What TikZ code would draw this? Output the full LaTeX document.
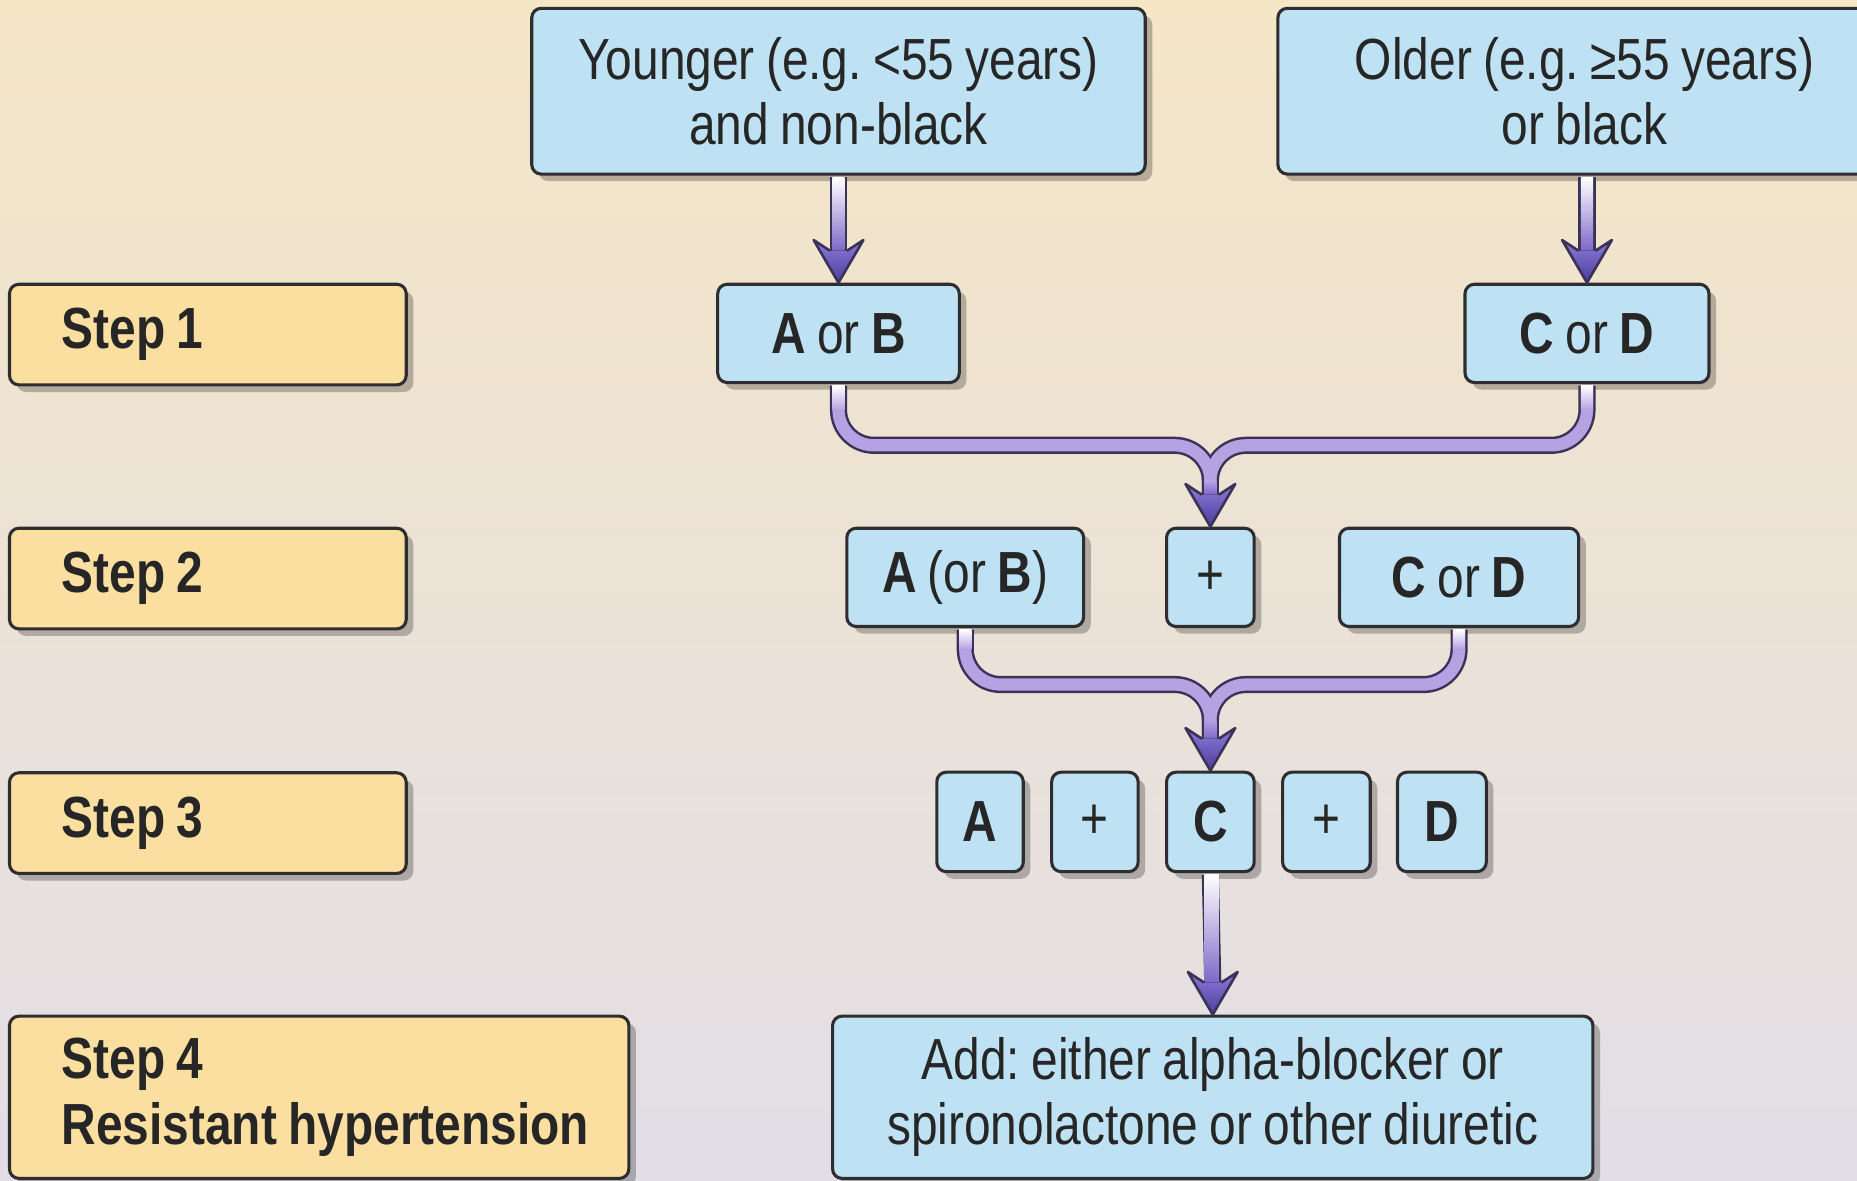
\documentclass[tikz,border=0pt]{standalone}
\usepackage{fontspec}
\setmainfont{Liberation Sans}[FakeStretch=0.825, WordSpace=0.85]
\frenchspacing
\usetikzlibrary{shadows,calc}
\definecolor{bgtop}{HTML}{F5E6C6}
\definecolor{bgmid}{HTML}{EFE4D2}
\definecolor{bgbot}{HTML}{E2DEE6}
\definecolor{bluef}{HTML}{BEE2F3}
\definecolor{yelf}{HTML}{FADFA0}
\definecolor{bord}{HTML}{2E2E30}
\definecolor{txt}{HTML}{262626}
\definecolor{outl}{HTML}{3B3357}
\definecolor{lav}{HTML}{B5A2E2}
\definecolor{purp}{HTML}{7C68C8}
\definecolor{headtop}{HTML}{8E7CD8}
\definecolor{headbot}{HTML}{4A3C9E}
\tikzset{
  box/.style={draw=bord, line width=2.6pt, rounded corners=8pt, fill=bluef, text=txt,
    inner sep=0pt, align=flush center, font=\fontsize{49}{55}\selectfont,
    drop shadow={shadow xshift=6pt, shadow yshift=-6pt, opacity=0.25, fill=black}},
  stepbox/.style={box, fill=yelf, align=flush left, inner xsep=44pt, font=\fontsize{49}{55}\selectfont\bfseries},
  pipeout/.style={draw=outl, line width=14.5pt, rounded corners=30pt},
  pipein/.style={draw=lav, line width=10.3pt, rounded corners=30pt},
  ahead/.pic={
    \fill[top color=headtop, bottom color=headbot] (-7.2,27) -- (-21,36) -- (0,0) -- (21,36) -- (7.2,27) -- cycle;
    \draw[outl, line width=2.2pt, line join=round] (-7.2,27) -- (-21,36) -- (0,0) -- (21,36) -- (7.2,27);
  }
}
\begin{document}
\begin{tikzpicture}[x=1pt, y=1pt]
\useasboundingbox (0,0) rectangle (1568,-997);
\shade[top color=bgtop, middle color=bgmid, bottom color=bgbot] (0,0) rectangle (1568,-997);

% left column
\node[stepbox, text width=247pt, minimum height=85pt] (s1) at (175.5,-282.5) {Step 1};
\node[stepbox, text width=247pt, minimum height=85pt] (s2) at (175.5,-488.5) {Step 2};
\node[stepbox, text width=247pt, minimum height=85pt] (s3) at (175.5,-695) {Step 3};
\node[stepbox, text width=435pt, minimum height=137pt] (s4) at (269.5,-926.5) {Step 4\\\mbox{Resistant hypertension}};

% flow boxes
\node[box, minimum width=518pt, minimum height=140pt] (young) at (708,-77) {Younger (e.g. <55 years)\\and non-black};
\node[box, minimum width=518pt, minimum height=140pt] (old) at (1338,-77) {Older (e.g. ≥55 years)\\or black};
\node[box, minimum width=204pt, minimum height=83pt] (aorb) at (708,-281.5) {\textbf{A} or \textbf{B}};
\node[box, minimum width=206pt, minimum height=83pt] (cord) at (1340,-281.5) {\textbf{C} or \textbf{D}};
\node[box, minimum width=200pt, minimum height=83pt] (aorb2) at (815,-487.5) {\textbf{A} (or \textbf{B})};
\node[box, minimum width=74pt, minimum height=83pt] (plus2) at (1022,-487.5) {+};
\node[box, minimum width=202pt, minimum height=83pt] (cord2) at (1232,-487.5) {\textbf{C} or \textbf{D}};
\node[box, minimum width=73pt, minimum height=84pt] (a3) at (827.5,-694) {\textbf{A}};
\node[box, minimum width=73pt, minimum height=84pt] (p3a) at (924.5,-694) {+};
\node[box, minimum width=74pt, minimum height=84pt] (c3) at (1022,-694) {\textbf{C}};
\node[box, minimum width=74pt, minimum height=84pt] (p3b) at (1120,-694) {+};
\node[box, minimum width=75pt, minimum height=84pt] (d3) at (1217.5,-694) {\textbf{D}};
\node[box, minimum width=642pt, minimum height=137pt] (add) at (1024,-926.5) {Add: either alpha-blocker or\\spironolactone or other diuretic};

\coordinate (h1) at (0,-376);
\coordinate (h2) at (0,-578);

% straight arrows
\draw[pipeout] ($(young.south)+(0,-1.3)$) -- ($(aorb.north)+(0,27)$);
\shade[top color=white, middle color=lav, bottom color=purp] ($(young.south)+(-5.15,-1.3)$) rectangle ($(aorb.north)+(5.15,27)$);
\pic at (aorb.north) {ahead};

\draw[pipeout] ($(cord.north |- old.south)+(0,-1.3)$) -- ($(cord.north)+(0,27)$);
\shade[top color=white, middle color=lav, bottom color=purp] ($(cord.north |- old.south)+(-5.15,-1.3)$) rectangle ($(cord.north)+(5.15,27)$);
\pic at (cord.north) {ahead};

\draw[pipeout] ($(c3.south)+(0,-1.3)$) -- ($(add.north)+(0,27)$);
\shade[top color=white, middle color=lav, bottom color=purp] ($(c3.south)+(-5.15,-1.3)$) rectangle ($(add.north)+(5.15,27)$);
\pic at (add.north) {ahead};

% merge 1
\draw[pipeout] ($(aorb.south)+(0,-1.3)$) -- (aorb.south |- h1) -- (plus2.north |- h1) -- ($(plus2.north)+(0,27)$);
\draw[pipeout] ($(cord.south)+(0,-1.3)$) -- (cord.south |- h1) -- (plus2.north |- h1) -- ($(plus2.north)+(0,27)$);
\draw[pipein] ($(aorb.south)+(0,-1.3)$) -- (aorb.south |- h1) -- (plus2.north |- h1) -- ($(plus2.north)+(0,27)$);
\draw[pipein] ($(cord.south)+(0,-1.3)$) -- (cord.south |- h1) -- (plus2.north |- h1) -- ($(plus2.north)+(0,27)$);
\shade[top color=white, bottom color=lav] ($(aorb.south)+(-5.15,-1.3)$) rectangle ($(aorb.south |- h1)+(5.15,30)$);
\shade[top color=white, bottom color=lav] ($(cord.south)+(-5.15,-1.3)$) rectangle ($(cord.south |- h1)+(5.15,30)$);
\shade[top color=lav, bottom color=purp] ($(plus2.north |- h1)+(-5.15,-30)$) rectangle ($(plus2.north)+(5.15,27)$);
\pic at (plus2.north) {ahead};

% merge 2
\draw[pipeout] ($(aorb2.south)+(0,-1.3)$) -- (aorb2.south |- h2) -- (c3.north |- h2) -- ($(c3.north)+(0,27)$);
\draw[pipeout] ($(cord2.south)+(0,-1.3)$) -- (cord2.south |- h2) -- (c3.north |- h2) -- ($(c3.north)+(0,27)$);
\draw[pipein] ($(aorb2.south)+(0,-1.3)$) -- (aorb2.south |- h2) -- (c3.north |- h2) -- ($(c3.north)+(0,27)$);
\draw[pipein] ($(cord2.south)+(0,-1.3)$) -- (cord2.south |- h2) -- (c3.north |- h2) -- ($(c3.north)+(0,27)$);
\shade[top color=white, bottom color=lav] ($(aorb2.south)+(-5.15,-1.3)$) rectangle ($(aorb2.south |- h2)+(5.15,30)$);
\shade[top color=white, bottom color=lav] ($(cord2.south)+(-5.15,-1.3)$) rectangle ($(cord2.south |- h2)+(5.15,30)$);
\shade[top color=lav, bottom color=purp] ($(c3.north |- h2)+(-5.15,-30)$) rectangle ($(c3.north)+(5.15,27)$);
\pic at (c3.north) {ahead};
\end{tikzpicture}
\end{document}
